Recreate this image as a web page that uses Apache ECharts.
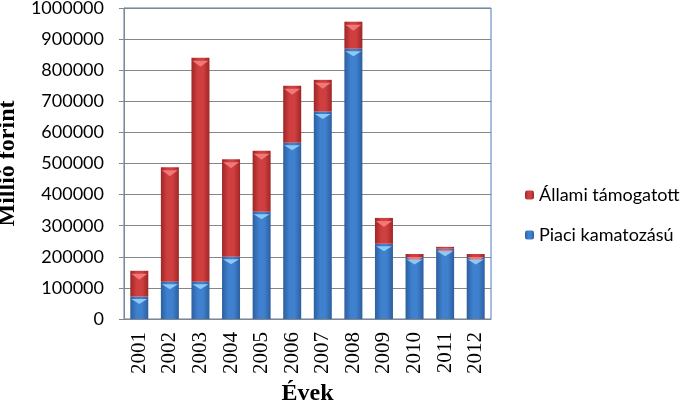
<!DOCTYPE html>
<html>
<head>
<meta charset="utf-8">
<script src="https://cdn.jsdelivr.net/npm/echarts@6/dist/echarts.min.js"></script>
<style>html,body{margin:0;padding:0;background:#fff}#c{width:696px;height:402px}</style>
</head>
<body>
<div id="c"></div>
<script>
const years = ['2001','2002','2003','2004','2005','2006','2007','2008','2009','2010','2011','2012'];
const piaci = [72000,120000,120000,200000,345000,567000,667000,869000,242000,199000,226000,199000];
const allami = [83000,368000,720000,314000,196000,183000,102000,87000,83000,10000,6000,10000];
const yTicks = { min: 0, max: 1000000, interval: 100000 };
const seriesNames = ['Állami támogatott', 'Piaci kamatozású'];

const totals = piaci.map((v, i) => v + allami[i]);

function grad(edge, mid) {
  return new echarts.graphic.LinearGradient(0, 0, 1, 0, [
    { offset: 0, color: edge }, { offset: 0.35, color: mid }, { offset: 0.65, color: mid }, { offset: 1, color: edge }
  ]);
}
const blueFill = grad('#2c5f9e', '#3f80cf');
const redFill = grad('#9e2626', '#d03f3f');

const chart = echarts.init(document.getElementById('c'));
chart.setOption({
  animation: false,
  grid: { left: 124, right: 205, top: 8, bottom: 83, containLabel: false, outerBoundsMode: 'none', show: true, borderColor: '#4a7ebb', borderWidth: 1, backgroundColor: 'transparent' },
  legend: {
    orient: 'vertical', left: 520, top: 181, itemGap: 22,
    itemWidth: 9, itemHeight: 9,
    data: seriesNames,
    textStyle: { fontFamily: 'Lato', fontSize: 18, color: '#000', lineHeight: 18 }
  },
  xAxis: {
    type: 'category', data: years,
    name: 'Évek', nameLocation: 'middle', nameGap: 59,
    nameTextStyle: { fontFamily: 'Liberation Serif', fontWeight: 'bold', fontSize: 24, color: '#000' },
    axisLine: { lineStyle: { color: '#868686' } },
    axisTick: { show: false },
    axisLabel: { rotate: 90, margin: 13, fontFamily: 'Liberation Serif', fontSize: 21, color: '#000' }
  },
  yAxis: {
    type: 'value', min: yTicks.min, max: yTicks.max, interval: yTicks.interval,
    name: 'Millió forint', nameLocation: 'middle', nameGap: 94, nameRotate: 90,
    nameTextStyle: { fontFamily: 'Liberation Serif', fontWeight: 'bold', fontSize: 24, color: '#000' },
    axisLine: { show: true, lineStyle: { color: '#868686' } },
    axisTick: { show: true, length: 5, lineStyle: { color: '#868686' } },
    splitLine: { lineStyle: { color: '#868686' } },
    axisLabel: { margin: 20, fontFamily: 'Lato', fontSize: 18, color: '#000', formatter: v => String(v) }
  },
  series: [
    { name: seriesNames[1], type: 'bar', stack: 'a', data: piaci, barWidth: 18, itemStyle: { color: blueFill } },
    { name: seriesNames[0], type: 'bar', stack: 'a', data: allami, barWidth: 18, itemStyle: { color: redFill } },
    { type: 'pictorialBar', data: piaci, symbol: 'path://M0,0 L10,0 L5,4 Z', symbolSize: [16, 5], symbolPosition: 'end', symbolOffset: [0, '50%'], itemStyle: { color: '#8ec8f5' }, z: 4, silent: true },
    { type: 'pictorialBar', data: totals, symbol: 'path://M0,0 L10,0 L5,4 Z', symbolSize: [16, 6], symbolPosition: 'end', symbolOffset: [0, '50%'], itemStyle: { color: '#f07878' }, z: 3, silent: true }
  ]
});
</script>
</body>
</html>
